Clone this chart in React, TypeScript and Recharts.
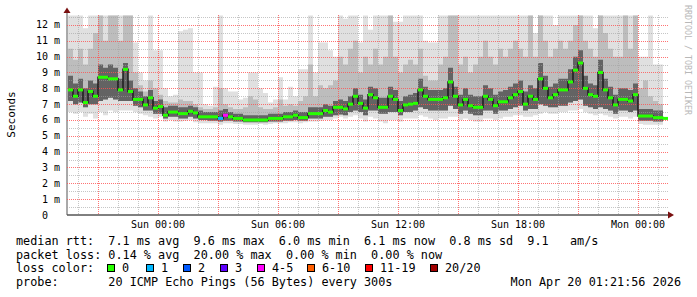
import React from "react";
import {
  ComposedChart,
  Area,
  Line,
  Scatter,
  XAxis,
  YAxis,
  CartesianGrid,
} from "recharts";

// hours relative to Sun 00:00, one sample every 15 min
const times = [
  -4.5, -4.25, -4, -3.75, -3.5, -3.25, -3, -2.75, -2.5, -2.25,
  -2, -1.75, -1.5, -1.25, -1, -0.75, -0.5, -0.25, 0, 0.25,
  0.5, 0.75, 1, 1.25, 1.5, 1.75, 2, 2.25, 2.5, 2.75,
  3, 3.25, 3.5, 3.75, 4, 4.25, 4.5, 4.75, 5, 5.25,
  5.5, 5.75, 6, 6.25, 6.5, 6.75, 7, 7.25, 7.5, 7.75,
  8, 8.25, 8.5, 8.75, 9, 9.25, 9.5, 9.75, 10, 10.25,
  10.5, 10.75, 11, 11.25, 11.5, 11.75, 12, 12.25, 12.5, 12.75,
  13, 13.25, 13.5, 13.75, 14, 14.25, 14.5, 14.75, 15, 15.25,
  15.5, 15.75, 16, 16.25, 16.5, 16.75, 17, 17.25, 17.5, 17.75,
  18, 18.25, 18.5, 18.75, 19, 19.25, 19.5, 19.75, 20, 20.25,
  20.5, 20.75, 21, 21.25, 21.5, 21.75, 22, 22.25, 22.5, 22.75,
  23, 23.25, 23.5, 23.75, 24, 24.25, 24.5, 24.75, 25, 25.25,
];

// median rtt (ms)
const median = [
  7.9, 7.5, 7.9, 7.1, 7.8, 7.5, 8.7, 8.7, 8.6, 8.6,
  7.9, 9.2, 7.8, 7.3, 7.3, 6.95, 7.4, 6.75, 6.85, 6.3,
  6.5, 6.5, 6.4, 6.4, 6.55, 6.45, 6.2, 6.2, 6.2, 6.2,
  6.1, 6.3, 6.2, 6.1, 6.1, 6.0, 6.0, 6.0, 6.0, 6.0,
  6.1, 6.1, 6.1, 6.2, 6.2, 6.3, 6.15, 6.15, 6.4, 6.4,
  6.4, 6.6, 6.5, 6.8, 6.8, 6.7, 7.0, 7.5, 7.05, 6.75,
  7.6, 7.4, 6.8, 6.8, 7.5, 7.3, 6.6, 6.95, 7.0, 7.05,
  7.9, 7.5, 7.3, 7.3, 7.3, 7.4, 8.4, 7.5, 6.95, 7.3,
  6.9, 6.8, 6.8, 7.5, 7.3, 6.9, 7.15, 7.15, 7.4, 7.6,
  7.8, 7.0, 7.5, 7.3, 8.6, 8.0, 7.4, 7.6, 7.9, 7.9,
  8.4, 9.15, 9.6, 8.0, 7.6, 7.5, 9.0, 7.9, 7.4, 6.95,
  7.3, 7.3, 7.2, 7.6, 6.25, 6.25, 6.25, 6.15, 6.15, 6.1,
];

// lost pings out of 20
const loss = [
  0, 0, 0, 0, 0, 0, 0, 0, 0, 0,
  0, 0, 0, 0, 0, 0, 0, 0, 0, 0,
  0, 0, 0, 0, 0, 0, 0, 0, 0, 0,
  1, 4, 0, 0, 0, 0, 0, 0, 0, 0,
  0, 0, 0, 0, 0, 0, 0, 0, 0, 0,
  0, 0, 0, 0, 0, 0, 0, 0, 0, 0,
  0, 0, 0, 0, 0, 0, 0, 0, 0, 0,
  0, 0, 0, 0, 0, 0, 0, 0, 0, 0,
  0, 0, 0, 0, 0, 0, 0, 0, 0, 0,
  0, 0, 0, 0, 0, 0, 0, 0, 0, 0,
  0, 0, 0, 0, 0, 0, 0, 0, 0, 0,
  0, 0, 0, 0, 0, 0, 0, 0, 0, 0,
];

// smoke: lowest ping
const smokeLo = [
  6.5, 6.4, 6.5, 6.2, 6.4, 6.1, 6.5, 6.3, 6.6, 6.5,
  6.6, 6.6, 6.6, 6.5, 6.4, 6.3, 6.2, 6.1, 6.2, 5.9,
  6.0, 5.9, 5.9, 5.95, 6.0, 5.85, 5.8, 5.8, 5.8, 5.8,
  5.7, 5.8, 5.8, 5.75, 5.75, 5.7, 5.7, 5.7, 5.75, 5.7,
  5.75, 5.8, 5.8, 5.8, 5.85, 5.85, 5.8, 5.85, 5.9, 5.9,
  5.95, 6.0, 6.0, 6.1, 6.2, 6.1, 6.2, 6.3, 6.1, 5.9,
  6.2, 6.1, 5.9, 5.8, 6.0, 6.0, 5.9, 6.1, 6.1, 6.1,
  6.3, 6.2, 6.1, 6.0, 6.1, 6.1, 6.2, 6.2, 6.0, 6.1,
  6.0, 5.9, 5.9, 6.1, 6.1, 6.0, 6.1, 6.2, 6.2, 6.3,
  6.3, 6.2, 6.2, 6.3, 6.4, 6.5, 6.4, 6.4, 6.5, 6.5,
  6.6, 6.6, 6.7, 6.5, 6.4, 6.3, 6.4, 6.3, 6.2, 6.1,
  6.2, 6.2, 6.1, 6.2, 5.75, 5.7, 5.7, 5.7, 5.7, 5.7,
];

// smoke: bottom of the darker core
const smokeCoreLo = [
  7.2, 7.0, 7.1, 6.8, 7.0, 7.0, 7.2, 7.3, 7.4, 7.3,
  7.2, 7.2, 7.2, 6.9, 6.8, 6.6, 6.6, 6.4, 6.4, 6.1,
  6.2, 6.2, 6.1, 6.1, 6.2, 6.1, 6.0, 6.0, 5.95, 5.95,
  5.9, 5.95, 5.95, 5.9, 5.9, 5.85, 5.85, 5.85, 5.85, 5.85,
  5.9, 5.9, 5.9, 5.95, 5.95, 6.0, 5.95, 5.95, 6.1, 6.1,
  6.1, 6.2, 6.2, 6.3, 6.35, 6.3, 6.5, 6.6, 6.5, 6.3,
  6.6, 6.6, 6.4, 6.4, 6.5, 6.5, 6.3, 6.5, 6.5, 6.6,
  6.8, 6.7, 6.6, 6.6, 6.6, 6.6, 6.9, 6.7, 6.4, 6.6,
  6.4, 6.3, 6.3, 6.6, 6.6, 6.4, 6.6, 6.6, 6.7, 6.8,
  6.9, 6.6, 6.7, 6.7, 7.0, 6.9, 6.8, 6.8, 6.9, 6.9,
  7.1, 7.2, 7.3, 6.9, 6.8, 6.7, 6.8, 6.7, 6.6, 6.4,
  6.6, 6.6, 6.5, 6.6, 5.95, 5.95, 5.95, 5.9, 5.9, 5.85,
];

// smoke: top of the darker core
const smokeCoreHi = [
  8.8, 8.3, 8.6, 8.0, 8.5, 8.3, 9.5, 9.3, 9.5, 9.3,
  8.6, 9.6, 8.5, 8.0, 7.8, 7.5, 7.9, 7.2, 7.3, 6.8,
  6.9, 6.9, 6.8, 6.8, 6.9, 6.8, 6.6, 6.5, 6.5, 6.5,
  6.6, 6.7, 6.5, 6.4, 6.4, 6.3, 6.3, 6.3, 6.3, 6.3,
  6.4, 6.4, 6.4, 6.5, 6.5, 6.6, 6.5, 6.5, 6.8, 6.8,
  6.8, 7.0, 6.9, 7.2, 7.3, 7.2, 7.5, 8.0, 7.6, 7.3,
  8.1, 8.0, 7.4, 7.4, 8.1, 7.9, 7.2, 7.5, 7.6, 7.7,
  8.6, 8.1, 7.9, 7.9, 7.9, 8.0, 9.3, 8.1, 7.6, 8.0,
  7.6, 7.5, 7.5, 8.2, 8.0, 7.6, 7.8, 7.9, 8.1, 8.3,
  8.5, 7.8, 8.2, 8.0, 9.6, 8.8, 8.1, 8.3, 8.6, 8.6,
  9.2, 10.0, 10.4, 8.8, 8.3, 8.2, 9.8, 8.6, 8.1, 7.6,
  8.0, 8.0, 7.9, 8.3, 6.7, 6.7, 6.7, 6.6, 6.6, 6.5,
];

// smoke: top of the mid-grey band
const smokeMidHi = [
  10.5, 9.8, 10.5, 9.5, 10.5, 11.5, 12.6, 11.0, 12.6, 12.6,
  11.0, 12.6, 12.6, 9.0, 8.2, 7.8, 8.5, 8.0, 7.6, 7.2,
  7.1, 7.1, 7.3, 7.2, 7.2, 7.0, 6.8, 6.7, 6.7, 6.8,
  8.0, 7.0, 6.8, 6.7, 6.7, 6.8, 7.5, 7.3, 6.8, 6.7,
  6.7, 6.8, 7.3, 6.9, 7.0, 6.9, 7.2, 7.5, 9.5, 7.5,
  8.2, 8.0, 8.2, 8.5, 10.0, 9.5, 10.5, 11.0, 9.0, 10.0,
  9.5, 10.5, 9.5, 10.0, 12.6, 10.0, 9.0, 9.5, 9.8, 9.5,
  10.5, 8.8, 8.5, 8.5, 9.5, 10.0, 12.6, 12.6, 9.5, 10.0,
  9.0, 9.5, 10.0, 11.0, 10.0, 9.5, 10.5, 10.0, 10.5, 11.0,
  10.5, 10.0, 12.6, 10.0, 12.6, 11.0, 10.0, 10.5, 11.0, 10.5,
  11.0, 12.0, 12.6, 11.0, 10.5, 10.0, 12.6, 11.5, 10.5, 10.0,
  10.0, 12.6, 10.5, 12.6, 8.0, 8.5, 7.5, 7.2, 7.0, 6.9,
];

// smoke: highest ping
const smokeHi = [
  12.6, 12.6, 12.6, 11.8, 12.6, 12.6, 12.6, 12.6, 12.6, 12.6,
  12.6, 12.6, 12.6, 10.9, 9.0, 8.5, 12.6, 10.4, 10.4, 8.0,
  7.5, 7.6, 11.6, 11.7, 11.8, 9.0, 9.0, 7.0, 6.9, 8.1,
  12.6, 8.0, 7.8, 7.8, 7.3, 7.4, 9.0, 9.0, 8.0, 7.7,
  7.1, 7.3, 8.7, 7.3, 8.1, 7.5, 9.2, 9.2, 12.6, 9.0,
  10.9, 10.9, 10.4, 10.0, 12.6, 12.4, 12.6, 12.6, 10.9, 12.6,
  11.7, 12.6, 12.6, 12.6, 12.6, 12.2, 12.2, 12.6, 12.6, 12.6,
  12.6, 11.0, 10.9, 10.9, 12.6, 12.6, 12.6, 12.6, 12.6, 12.6,
  12.6, 12.6, 12.6, 12.6, 12.6, 12.6, 12.6, 12.6, 12.6, 12.6,
  12.6, 12.6, 12.6, 11.5, 12.6, 12.6, 12.6, 12.0, 12.6, 12.6,
  12.6, 12.6, 12.6, 12.6, 12.6, 11.8, 12.6, 12.6, 12.6, 12.6,
  12.6, 12.6, 12.6, 12.6, 10.0, 10.0, 12.6, 9.5, 9.5, 9.5,
];

const xTicks = [0, 6, 12, 18, 24];
const xTickLabels = ["Sun 00:00", "Sun 06:00", "Sun 12:00", "Sun 18:00", "Mon 00:00"];
const yTicks = [0, 1, 2, 3, 4, 5, 6, 7, 8, 9, 10, 11, 12];

const hourMinor = [-4, -2, -1, 1, 2, 4, 5, 7, 8, 10, 11, 13, 14, 16, 17, 19, 20, 22, 23, 25];
const hourMajor = [-3, 0, 3, 6, 9, 12, 15, 18, 21, 24];
const msMinor = [0.5, 1.5, 2.5, 3.5, 4.5, 5.5, 6.5, 7.5, 8.5, 9.5, 10.5, 11.5, 12.5];
const msMajor = [1, 2, 3, 4, 5, 6, 7, 8, 9, 10, 11, 12];

const lossLabels = ["0", "1", "2", "3", "4-5", "6-10", "11-19", "20/20"];
const lossColors = ["#26ff00", "#00b8ff", "#0059ff", "#5e00ff", "#ff00fe", "#ff5e00", "#ff0000", "#a10000"];
const legendBoxX = [107, 146, 183, 220, 257, 307, 365, 430];

const statsRtt = "median rtt:  7.1 ms avg  9.6 ms max  6.0 ms min  6.1 ms now  0.8 ms sd  9.1   am/s";
const statsLoss = "packet loss: 0.14 % avg  20.00 % max  0.00 % min  0.00 % now";
const probeText = "probe:       20 ICMP Echo Pings (56 Bytes) every 300s";
const stampText = "Mon Apr 20 01:21:56 2026";

const MONO = "'DejaVu Sans Mono', monospace";
const X_DOMAIN: [number, number] = [-4.55, 25.5];
const Y_DOMAIN: [number, number] = [0, 12.63];
const OVERLAY_MARGIN = { top: 15, right: 29, left: 67, bottom: 82 };

function lossIndex(n: number) {
  if (n <= 3) return n;
  if (n <= 5) return 4;
  if (n <= 10) return 5;
  if (n <= 19) return 6;
  return 7;
}

const rows = times.map((t, i) => ({
  t,
  med: median[i],
  loss: loss[i],
  lo: smokeLo[i],
  coreLo: smokeCoreLo[i],
  coreHi: smokeCoreHi[i],
  midHi: smokeMidHi[i],
  hi: smokeHi[i],
}));

// grid positions through the axis scales, snapped to pixel centres
function hGen(vals: number[]) {
  return (p: any) => {
    const s = p.yAxis && p.yAxis.scale;
    const off = p.offset;
    return vals.map((v) => {
      const y = typeof s === "function"
        ? s(v)
        : off.top + off.height * (1 - (v - Y_DOMAIN[0]) / (Y_DOMAIN[1] - Y_DOMAIN[0]));
      return Math.round(y) + 0.5;
    });
  };
}
function vGen(vals: number[]) {
  return (p: any) => {
    const s = p.xAxis && p.xAxis.scale;
    const off = p.offset;
    return vals.map((v) => {
      const x = typeof s === "function"
        ? s(v)
        : off.left + (off.width * (v - X_DOMAIN[0])) / (X_DOMAIN[1] - X_DOMAIN[0]);
      return Math.round(x) + 0.5;
    });
  };
}

function YTick(props: any) {
  const { x, y, payload } = props;
  const v = payload.value;
  return (
    <g fontFamily={MONO} fontSize={10} fill="#000">
      <text x={x - 19} y={y + 3.5} textAnchor="end">{String(v)}</text>
      {v !== 0 && <text x={x - 13} y={y + 3.5}>m</text>}
    </g>
  );
}

function XTick(props: any) {
  const { x, y, payload } = props;
  const idx = xTicks.indexOf(payload.value);
  return (
    <text x={x} y={y + 13} textAnchor="middle" fontFamily={MONO} fontSize={10} fill="#000">
      {xTickLabels[idx]}
    </text>
  );
}

function MedianBar(props: any) {
  const { cx, cy, payload } = props;
  if (cx == null || cy == null) return <g />;
  return <rect x={cx} y={cy - 1.5} width={5} height={3} fill={lossColors[lossIndex(payload.loss)]} />;
}

// one dotted grid per layer (a chart only draws a single CartesianGrid)
function GridLayer({ hVals, vVals, color, opacity, children }: any) {
  return (
    <div style={{ position: "absolute", left: 0, top: 0 }}>
      <ComposedChart width={697} height={297} data={rows} margin={OVERLAY_MARGIN}>
        <XAxis dataKey="t" type="number" domain={X_DOMAIN} allowDataOverflow hide />
        <YAxis type="number" domain={Y_DOMAIN} allowDataOverflow hide />
        <CartesianGrid
          horizontalCoordinatesGenerator={hGen(hVals)}
          verticalCoordinatesGenerator={vGen(vVals)}
          stroke={color}
          strokeOpacity={opacity}
          strokeDasharray="1 1"
        />
        {children}
      </ComposedChart>
    </div>
  );
}

export default function App() {
  return (
    <div style={{ position: "absolute", left: 0, top: 0, width: 697, height: 297, background: "#fff" }}>
      {/* base layer: axes and smoke */}
      <ComposedChart
        width={697}
        height={297}
        data={rows}
        margin={{ top: 15, right: 29, left: 7, bottom: 0 }}
      >
        <XAxis
          dataKey="t"
          type="number"
          domain={X_DOMAIN}
          allowDataOverflow
          ticks={xTicks}
          tick={<XTick />}
          tickLine={false}
          tickSize={0}
          tickMargin={0}
          interval={0}
          height={82}
          axisLine={{ stroke: "#000" }}
        />
        <YAxis
          type="number"
          domain={Y_DOMAIN}
          allowDataOverflow
          ticks={yTicks}
          tick={<YTick />}
          tickLine={false}
          tickSize={0}
          tickMargin={0}
          interval={0}
          width={60}
          axisLine={{ stroke: "#555" }}
        />
        <Area
          type="stepAfter"
          dataKey={(d: any) => [d.lo, d.hi]}
          stroke="none"
          fill="#e0e0e0"
          fillOpacity={1}
          isAnimationActive={false}
        />
        <Area
          type="stepAfter"
          dataKey={(d: any) => [d.coreLo, d.midHi]}
          stroke="none"
          fill="#bdbdbd"
          fillOpacity={1}
          isAnimationActive={false}
        />
        <Area
          type="stepAfter"
          dataKey={(d: any) => [d.coreLo, d.coreHi]}
          stroke="none"
          fill="#636363"
          fillOpacity={1}
          isAnimationActive={false}
        />
      </ComposedChart>

      <GridLayer hVals={msMinor} vVals={hourMinor} color="#a0a0a0" opacity={0.6} />
      <GridLayer hVals={msMajor} vVals={hourMajor} color="#ff5050" opacity={0.8}>
        <Line
          type="stepAfter"
          dataKey="med"
          stroke="#1c1c1c"
          strokeWidth={1.5}
          dot={false}
          isAnimationActive={false}
        />
        <Scatter dataKey="med" shape={<MedianBar />} isAnimationActive={false} />
      </GridLayer>

      <svg
        width={697}
        height={297}
        style={{ position: "absolute", left: 0, top: 0, pointerEvents: "none" }}
      >
        <line x1={67} y1={12} x2={67} y2={15} stroke="#555" />
        <polygon points="63.5,13 70.5,13 67,7.5" fill="#7a1010" />
        <polygon points="668,211.5 668,218.5 674,215" fill="#7a1010" />
        <text
          transform="translate(15,114.5) rotate(-90)"
          textAnchor="middle"
          fontFamily={MONO}
          fontSize={11}
          fill="#000"
        >
          Seconds
        </text>
        <text
          transform="translate(685,60) rotate(90)"
          textAnchor="middle"
          fontFamily={MONO}
          fontSize={8.3}
          fill="#b8b8b8"
        >
          RRDTOOL / TOBI OETIKER
        </text>
        <g fontFamily={MONO} fontSize={11.8} fill="#000" style={{ whiteSpace: "pre" }}>
          <text x={16} y={245} xmlSpace="preserve">{statsRtt}</text>
          <text x={16} y={258.5} xmlSpace="preserve">{statsLoss}</text>
          <text x={16} y={272} xmlSpace="preserve">loss color:</text>
          {lossLabels.map((lab, i) => (
            <g key={lab}>
              <rect x={legendBoxX[i] + 0.5} y={264.5} width={7} height={7} fill={lossColors[i]} stroke="#000" />
              <text x={legendBoxX[i] + 15} y={272}>{lab}</text>
            </g>
          ))}
          <text x={16} y={285.7} xmlSpace="preserve">{probeText}</text>
          <text x={681} y={285.7} textAnchor="end">{stampText}</text>
        </g>
      </svg>
    </div>
  );
}
